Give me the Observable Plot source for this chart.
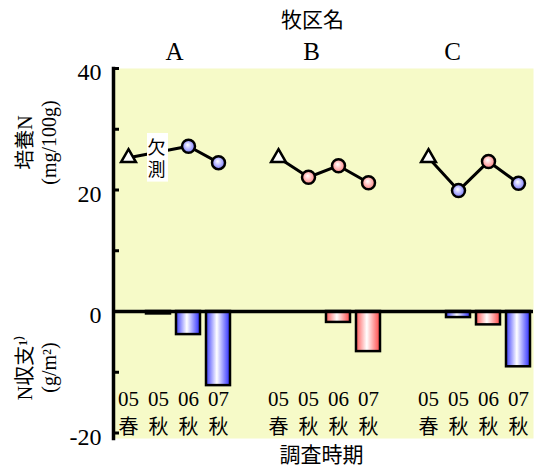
<!DOCTYPE html>
<html><head><meta charset="utf-8">
<script src="https://cdn.jsdelivr.net/npm/d3@7"></script>
<script src="https://cdn.jsdelivr.net/npm/@observablehq/plot@0.6"></script>
<style>body{margin:0;background:#fff} svg{display:block}</style>
</head><body><div id="chart"></div>
<script>
const groups = ["A", "B", "C"];
const years = ["05", "05", "06", "07"];
const seasons = ["春", "秋", "秋", "秋"];
// 培養N (mg/100g); null = 欠測
const cultA = [25.3, null, 27.2, 24.5];
const cultB = [25.3, 22.1, 24.0, 21.2];
const cultC = [25.3, 19.9, 24.7, 21.1];
// N収支 (g/m2)
const balA = [null, -0.4, -3.8, -12.2];
const balB = [null, 0, -1.8, -6.6];
const balC = [null, -1.0, -2.2, -9.1];
// 色分け
const colA = [null, "blue", "blue", "blue"];
const colB = [null, "red", "red", "red"];
const colC = [null, "blue", "red", "blue"];
const yTicks = [40, 30, 20, 10, -10, -20];
const yLabels = [40, 20, 0, -20];
const missingNote = [{group: "A", period: 1, text: "欠\n測", value: 25.3}];

const cults = [cultA, cultB, cultC], bals = [balA, balB, balC], cols = [colA, colB, colC];
const rows = groups.flatMap((g, gi) => years.map((y, pi) => ({
  group: g, slot: g + pi, year: y, season: seasons[pi],
  cult: cults[gi][pi], bal: bals[gi][pi], col: cols[gi][pi], spring: pi === 0
})));
const slotDomain = [];
groups.forEach((g, gi) => {
  years.forEach((y, pi) => slotDomain.push(g + pi));
  if (gi < groups.length - 1) slotDomain.push("gap" + gi);
});

const SERIF = "'Liberation Serif', 'Times New Roman', 'Noto Sans CJK JP', serif";
const SANS = "'Noto Sans CJK JP', 'Noto Sans', sans-serif";
const headerDx = [16, 3, -6];

const svg = Plot.plot({
  width: 538, height: 468,
  marginTop: 68, marginBottom: 30, marginLeft: 113, marginRight: 5,
  style: {background: "white", color: "black", fontFamily: SERIF},
  x: {type: "band", domain: slotDomain, padding: 0, axis: null},
  y: {domain: [-20, 40], range: [432.5, 68], axis: null},
  marks: [
    Plot.frame({fill: "#f6fac8", stroke: "none"}),
    Plot.barY(rows.filter(d => d.bal && d.col === "blue"), {x: "slot", y1: 0, y2: "bal", fill: "url(#barBlue)", stroke: "black", strokeWidth: 2.5, insetLeft: 3, insetRight: 3}),
    Plot.barY(rows.filter(d => d.bal && d.col === "red"), {x: "slot", y1: 0, y2: "bal", fill: "url(#barRed)", stroke: "black", strokeWidth: 2.5, insetLeft: 3, insetRight: 3}),
    Plot.ruleY([0], {stroke: "black", strokeWidth: 3.5}),
    Plot.frame({anchor: "left", stroke: "black", strokeWidth: 3.5}),
    Plot.tickY(yTicks, {y: d => d, stroke: "black", strokeWidth: 3, insetRight: 414}),
    Plot.axisY(yLabels, {tickSize: 0, tickPadding: 12, fontSize: 24, fontFamily: SERIF, tickFormat: d => String(d), label: null, dy: 4}),
    Plot.line(rows.filter(d => d.cult != null), {x: "slot", y: "cult", z: "group", stroke: "black", strokeWidth: 3}),
    Plot.barY(missingNote, {x: d => d.group + d.period, y1: d => d.value - 4, y2: d => d.value + 4, fill: "white", insetLeft: 4, insetRight: 5}),
    Plot.text(missingNote, {x: d => d.group + d.period, y: "value", text: "text", fontSize: 18, lineHeight: 1.25, lineAnchor: "middle", fontFamily: SANS, dx: -2}),
    Plot.dot(rows.filter(d => d.spring), {x: "slot", y: "cult", symbol: "triangle", r: 5.5, fill: "white", stroke: "black", strokeWidth: 2.5}),
    Plot.dot(rows.filter(d => !d.spring && d.cult != null && d.col === "blue"), {x: "slot", y: "cult", r: 6.5, fill: "url(#dotBlue)", stroke: "black", strokeWidth: 2.5}),
    Plot.dot(rows.filter(d => !d.spring && d.cult != null && d.col === "red"), {x: "slot", y: "cult", r: 6.5, fill: "url(#dotRed)", stroke: "black", strokeWidth: 2.5}),
    Plot.text(rows, {x: "slot", text: "year", frameAnchor: "bottom", lineAnchor: "middle", dy: -39, fontSize: 21, fontFamily: SERIF}),
    Plot.text(rows, {x: "slot", text: "season", frameAnchor: "bottom", lineAnchor: "middle", dy: -11, fontSize: 20, fontFamily: SANS}),
    ...groups.map((g, i) => Plot.text([g], {x: d => d + "1", text: d => d, frameAnchor: "top", lineAnchor: "middle", dy: -17, dx: headerDx[i], fontSize: 25, fontFamily: SERIF})),
    Plot.text(["牧区名"], {text: d => d, frameAnchor: "top", lineAnchor: "middle", dy: -48, dx: -11, fontSize: 21, fontFamily: SANS}),
    Plot.text(["調査時期"], {text: d => d, frameAnchor: "bottom", lineAnchor: "middle", dy: 17, dx: -2, fontSize: 21, fontFamily: SANS}),
    Plot.text(["培養N\n(mg/100g)"], {text: d => d, frameAnchor: "top-left", textAnchor: "middle", lineAnchor: "middle", dx: -77, dy: 74, rotate: -90, fontSize: 20, lineHeight: 1.2, fontFamily: SERIF}),
    Plot.text(["N収支¹⁾\n(g/m²)"], {text: d => d, frameAnchor: "bottom-left", textAnchor: "middle", lineAnchor: "middle", dx: -77, dy: -71, rotate: -90, fontSize: 20, lineHeight: 1.2, fontFamily: SERIF})
  ]
});

d3.select(svg).insert("defs", ":first-child").html(`
  <linearGradient id="barBlue" x1="0" x2="1" y1="0" y2="0">
    <stop offset="0" stop-color="#3d3dff"/><stop offset="0.45" stop-color="#ffffff"/><stop offset="1" stop-color="#2b2bff"/>
  </linearGradient>
  <linearGradient id="barRed" x1="0" x2="1" y1="0" y2="0">
    <stop offset="0" stop-color="#ff5a5a"/><stop offset="0.45" stop-color="#ffffff"/><stop offset="1" stop-color="#ff4545"/>
  </linearGradient>
  <radialGradient id="dotBlue" cx="0.5" cy="0.5" r="0.55" fx="0.42" fy="0.38">
    <stop offset="0" stop-color="#ffffff"/><stop offset="1" stop-color="#7070ff"/>
  </radialGradient>
  <radialGradient id="dotRed" cx="0.5" cy="0.5" r="0.55" fx="0.42" fy="0.38">
    <stop offset="0" stop-color="#ffffff"/><stop offset="1" stop-color="#ff7a7a"/>
  </radialGradient>
`);
document.getElementById("chart").appendChild(svg);
</script>
</body></html>
